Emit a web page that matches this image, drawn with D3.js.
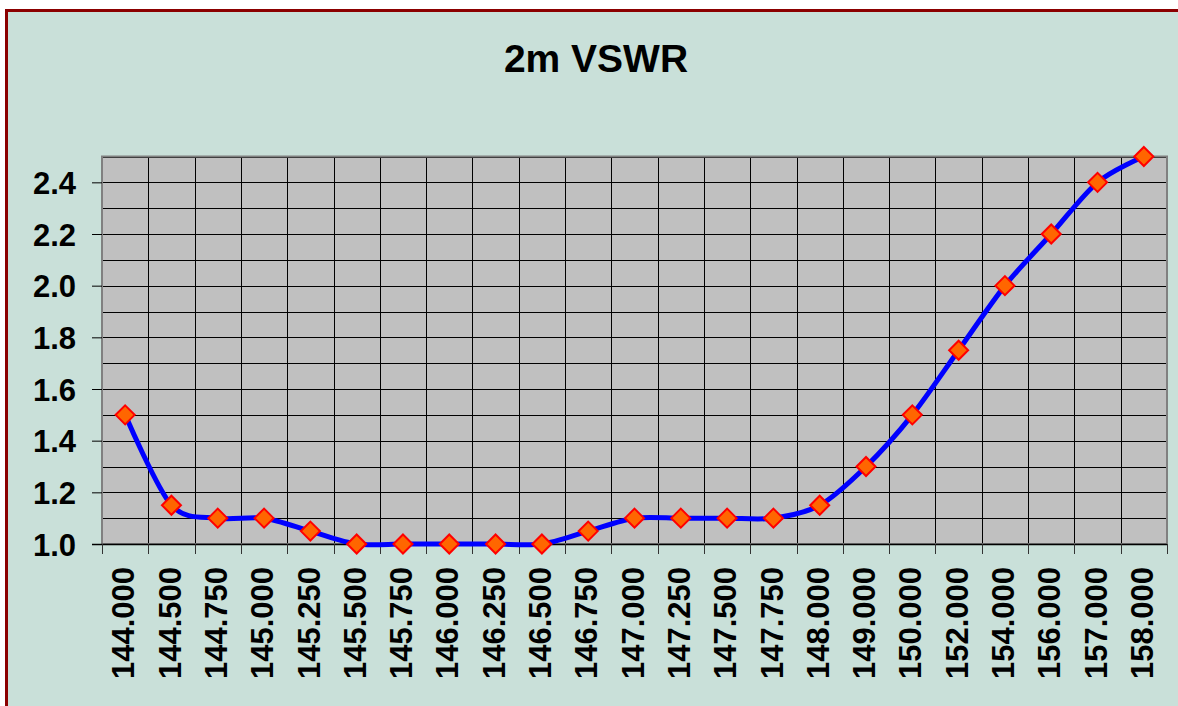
<!DOCTYPE html>
<html lang="en">
<head>
  <meta charset="UTF-8">
  <title>2m VSWR</title>
  <style>
    body { margin: 0; background: #fff; }
    text { font-family: Arial, "Liberation Sans", sans-serif; font-weight: bold; fill: #000; }
  </style>
</head>
<body>
  <svg class="vswr-chart"></svg>
  <script src="https://cdn.jsdelivr.net/npm/d3@7"></script>
  <script>
    var w = 1178;
    var h = 706;

    var freqs = ["144.000", "144.500", "144.750", "145.000", "145.250", "145.500",
      "145.750", "146.000", "146.250", "146.500", "146.750", "147.000", "147.250",
      "147.500", "147.750", "148.000", "149.000", "150.000", "152.000", "154.000",
      "156.000", "157.000", "158.000"];
    var vswr = [1.5, 1.15, 1.1, 1.1, 1.05, 1.0, 1.0, 1.0, 1.0, 1.0, 1.05, 1.1, 1.1,
      1.1, 1.1, 1.15, 1.3, 1.5, 1.75, 2.0, 2.2, 2.4, 2.5];
    var yTicks = [1.0, 1.2, 1.4, 1.6, 1.8, 2.0, 2.2, 2.4];
    var yGrid = d3.range(10, 26).map(d => d / 10);

    var plot = {left: 102, top: 156.5, right: 1167, bottom: 544};

    var svg = d3.select(".vswr-chart")
      .attr("width", w)
      .attr("height", h);

    // chart area + dark red frame
    svg.append("rect")
      .attr("x", 6.5).attr("y", 10.5)
      .attr("width", 1200).attr("height", 720)
      .attr("fill", "#c9e0d9")
      .attr("stroke", "#8b0000")
      .attr("stroke-width", 3);

    svg.append("text")
      .attr("x", 596).attr("y", 72)
      .attr("text-anchor", "middle")
      .attr("font-size", "39px")
      .text("2m VSWR");

    var x = d3.scaleBand()
      .domain(freqs)
      .range([plot.left, plot.right]);

    var y = d3.scaleLinear()
      .domain([1.0, 2.5])
      .range([plot.bottom, plot.top]);

    svg.append("rect")
      .attr("x", plot.left).attr("y", plot.top)
      .attr("width", plot.right - plot.left)
      .attr("height", plot.bottom - plot.top)
      .attr("fill", "#c0c0c0");

    // horizontal grid
    svg.append("g")
      .selectAll("line")
      .data(yGrid)
      .enter()
      .append("line")
      .attr("x1", plot.left).attr("x2", plot.right)
      .attr("y1", d => Math.round(y(d)) + 0.5)
      .attr("y2", d => Math.round(y(d)) + 0.5)
      .attr("stroke", "#000")
      .attr("stroke-width", 1);

    // vertical grid at category boundaries
    var bounds = freqs.map(f => x(f)).slice(1);
    svg.append("g")
      .selectAll("line")
      .data(bounds)
      .enter()
      .append("line")
      .attr("x1", d => Math.round(d) + 0.5)
      .attr("x2", d => Math.round(d) + 0.5)
      .attr("y1", plot.top).attr("y2", plot.bottom)
      .attr("stroke", "#000")
      .attr("stroke-width", 1);

    // plot border
    svg.append("rect")
      .attr("x", plot.left).attr("y", plot.top)
      .attr("width", plot.right - plot.left)
      .attr("height", plot.bottom - plot.top)
      .attr("fill", "none")
      .attr("stroke", "#808080")
      .attr("stroke-width", 2);

    // y axis
    var yAxis = svg.append("g")
      .attr("transform", "translate(" + plot.left + ",0)")
      .call(d3.axisLeft(y).tickValues(yTicks).tickFormat(d3.format(".1f")).tickSize(10).tickPadding(16));
    yAxis.select(".domain").remove();
    yAxis.selectAll("line").attr("stroke", "#000");
    yAxis.selectAll("text")
      .attr("font-size", "31px")
      .attr("font-family", "Arial, 'Liberation Sans', sans-serif")
      .attr("font-weight", "bold")
      .attr("dy", "0.36em");

    // x axis line and ticks at boundaries
    svg.append("line")
      .attr("x1", plot.left - 10).attr("x2", plot.right)
      .attr("y1", plot.bottom + 0.5).attr("y2", plot.bottom + 0.5)
      .attr("stroke", "#000")
      .attr("stroke-width", 1.5);

    var tickPos = freqs.map(f => x(f)).concat([plot.right]);
    svg.append("g")
      .selectAll("line")
      .data(tickPos)
      .enter()
      .append("line")
      .attr("x1", d => Math.round(d) + 0.5)
      .attr("x2", d => Math.round(d) + 0.5)
      .attr("y1", plot.bottom).attr("y2", plot.bottom + 10)
      .attr("stroke", "#333")
      .attr("stroke-width", 1);

    svg.append("g")
      .selectAll("text")
      .data(freqs)
      .enter()
      .append("text")
      .attr("transform", d => "translate(" + (x(d) + x.bandwidth() / 2 - 2) + ",567) rotate(-90)")
      .attr("text-anchor", "end")
      .attr("dy", "0.36em")
      .attr("font-size", "31px")
      .text(d => d);

    // smoothed line
    var lineFun = d3.line()
      .x((d, i) => x(freqs[i]) + x.bandwidth() / 2)
      .y(d => y(d))
      .curve(d3.curveCardinal.tension(0.1));

    svg.append("path")
      .attr("d", lineFun(vswr))
      .attr("fill", "none")
      .attr("stroke", "#0000ff")
      .attr("stroke-width", 5);

    // diamond markers
    svg.append("g")
      .selectAll("path")
      .data(vswr)
      .enter()
      .append("path")
      .attr("transform", (d, i) => "translate(" + (x(freqs[i]) + x.bandwidth() / 2) + "," + y(d) + ")")
      .attr("d", "M0,-9.5L9.5,0L0,9.5L-9.5,0Z")
      .attr("fill", "#ff6600")
      .attr("stroke", "#ff0000")
      .attr("stroke-width", 2);
  </script>
</body>
</html>
